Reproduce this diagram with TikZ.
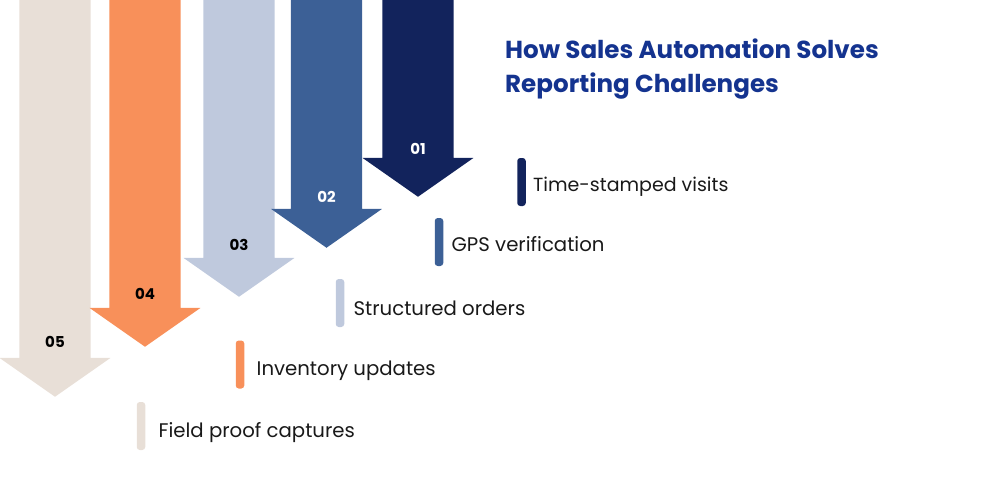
\documentclass[tikz,border=0pt]{standalone}
\usepackage{fontspec}
\setmainfont{Poppins}
\usetikzlibrary{positioning,shapes.arrows}
\definecolor{cnavy}{HTML}{12235C}
\definecolor{cblue}{HTML}{3C6096}
\definecolor{cgrey}{HTML}{BFC9DD}
\definecolor{corange}{HTML}{F8905A}
\definecolor{csand}{HTML}{E8DFD7}
\definecolor{ctitle}{HTML}{14338F}
\tikzstyle{downarrow}=[single arrow, shape border rotate=270, draw=none, inner sep=0pt, text width=71pt, minimum width=110.5pt, single arrow head extend=19.75pt, single arrow tip angle=110, anchor=tip]
\tikzstyle{bar}=[rectangle, rounded corners=3pt, inner sep=0pt, minimum width=8.5pt, minimum height=48pt]
\tikzstyle{itemtext}=[inner sep=0pt, font=\fontsize{19.7}{22}\selectfont, text=black!90]
\tikzstyle{numtext}=[inner sep=0pt, font=\fontsize{15}{16}\selectfont\bfseries]
\begin{document}
\begin{tikzpicture}[x=1pt,y=-1pt]
\useasboundingbox (0,0) rectangle (1000,500);
\node (ARROWE) [downarrow, fill=csand, minimum height=397pt] at (55,397) {};
\node (ARROWD) [downarrow, fill=corange, minimum height=347pt] at (145,347) {};
\node (ARROWC) [downarrow, fill=cgrey, minimum height=297pt] at (239,297) {};
\node (ARROWB) [downarrow, fill=cblue, minimum height=248pt] at (326.5,248) {};
\node (ARROWA) [downarrow, fill=cnavy, minimum height=197pt] at (418,197) {};
\node (NUMA) [numtext, text=white] at (418,148.5) {01};
\node (NUMB) [numtext, text=white] at (326.5,197) {02};
\node (NUMC) [numtext, text=black] at (239,244.5) {03};
\node (NUMD) [numtext, text=black] at (145,294) {04};
\node (NUME) [numtext, text=black] at (55,342) {05};
\node (BARA) [bar, fill=cnavy] at (521.5,182) {};
\node (BARB) [bar, fill=cblue] at (439,242) {};
\node (BARC) [bar, fill=cgrey] at (340,303) {};
\node (BARD) [bar, fill=corange] at (240,364.5) {};
\node (BARE) [bar, fill=csand] at (141,426) {};
\node (TXTA) [itemtext, right=7pt of BARA, yshift=-4.5pt, font=\fontsize{19}{22}\selectfont] {Time-stamped visits};
\node (TXTB) [itemtext, right=8pt of BARB, yshift=-2pt] {GPS verification};
\node (TXTC) [itemtext, right=9pt of BARC, yshift=-5pt] {Structured orders};
\node (TXTD) [itemtext, right=12pt of BARD, yshift=-6pt] {Inventory updates};
\node (TXTE) [itemtext, right=13pt of BARE, yshift=-7pt] {Field proof captures};
\node (TITLE) [anchor=north west, inner sep=0pt, align=left, text=ctitle, font=\fontsize{24.6}{34}\selectfont\bfseries] at (505,39) {How Sales Automation Solves\\Reporting Challenges};
\end{tikzpicture}
\end{document}
